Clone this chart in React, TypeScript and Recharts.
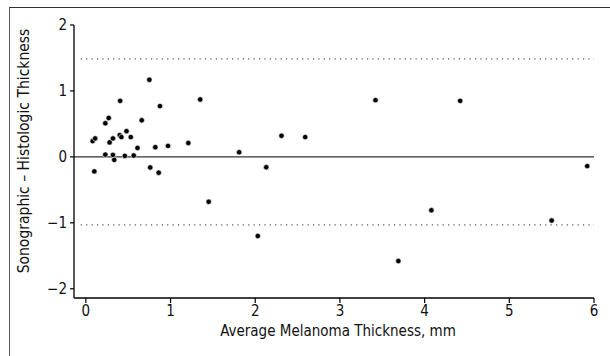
import { ScatterChart, Scatter, XAxis, YAxis, ReferenceLine } from "recharts";

// average thickness (mm) vs sonographic - histologic difference
const avgThickness = [
  0.08, 0.11, 0.1, 0.23, 0.27, 0.23, 0.28, 0.32, 0.32, 0.335,
  0.405, 0.4, 0.42, 0.48, 0.46, 0.53, 0.565, 0.61, 0.66, 0.75,
  0.76, 0.82, 0.875, 0.86, 0.97, 1.21, 1.35, 1.81, 1.45, 2.13,
  2.31, 2.59, 2.03, 3.42, 3.69, 4.42, 4.08, 5.5, 5.92,
];
const difference = [
  0.24, 0.28, -0.22, 0.51, 0.59, 0.035, 0.22, 0.28, 0.03, -0.045,
  0.85, 0.33, 0.3, 0.39, 0.015, 0.3, 0.02, 0.136, 0.555, 1.17,
  -0.16, 0.147, 0.77, -0.24, 0.167, 0.21, 0.87, 0.07, -0.68, -0.157,
  0.32, 0.3, -1.2, 0.86, -1.58, 0.85, -0.81, -0.965, -0.14,
];
const xTicks = [0, 1, 2, 3, 4, 5, 6];
const yTicks = [-2, -1, 0, 1, 2];
const upperLimit = 1.485;
const lowerLimit = -1.03;

const points = avgThickness.map((x, i) => ({ x, y: difference[i] }));

const FONT = "'Liberation Sans Narrow', 'DejaVu Sans Condensed', 'Liberation Sans', sans-serif";
const fmt = (v: number) => (v < 0 ? "\u2212" + Math.abs(v) : String(v));

const Dot = (props: any) => {
  const { cx, cy } = props;
  if (cx == null || cy == null) return null;
  return <circle cx={cx} cy={cy} r={2.7} fill="#000" stroke="#fff" strokeWidth={0.6} />;
};

export default function App() {
  return (
    <div style={{ position: "fixed", left: 0, top: 0, width: 610, height: 356, background: "#fff" }}>
      <div
        style={{
          position: "absolute",
          left: 9,
          top: 7,
          right: 0,
          bottom: 0,
          borderTop: "1.5px solid #333",
          borderLeft: "1.5px solid #555",
        }}
      />
      <div style={{ position: "absolute", left: 0, top: 0 }}>
        <ScatterChart
          width={610}
          height={356}
          margin={{ top: 25, right: 16, bottom: 28, left: 34 }}
          style={{ fontFamily: FONT }}
        >
          <XAxis
            type="number"
            dataKey="x"
            domain={[-0.14, 6]}
            ticks={xTicks}
            allowDataOverflow
            height={30}
            tickSize={5}
            tickMargin={2}
            axisLine={{ stroke: "#000", strokeWidth: 1.3 }}
            tickLine={{ stroke: "#000", strokeWidth: 1.2 }}
            tick={{ fill: "#111", fontSize: 15, fontFamily: FONT }}
            label={(p: any) => (
              <text x={338} y={336} textAnchor="middle" fontSize={15} fill="#111" fontFamily={FONT}>
                Average Melanoma Thickness, mm
              </text>
            )}
          />
          <YAxis
            type="number"
            dataKey="y"
            domain={[-2.14, 2]}
            ticks={yTicks}
            allowDataOverflow
            width={40}
            tickSize={4}
            tickMargin={3}
            tickFormatter={fmt}
            axisLine={{ stroke: "#000", strokeWidth: 1.3 }}
            tickLine={{ stroke: "#000", strokeWidth: 1.2 }}
            tick={{ fill: "#111", fontSize: 15, fontFamily: FONT }}
            label={(p: any) => (
              <text
                x={29}
                y={151}
                transform="rotate(-90 29 151)"
                textAnchor="middle"
                fontSize={15.5}
                fill="#111"
                fontFamily={FONT}
              >
                Sonographic – Histologic Thickness
              </text>
            )}
          />
          <ReferenceLine y={0} stroke="#333" strokeWidth={1.3} />
          <ReferenceLine
            segment={[
              { x: -0.06, y: upperLimit },
              { x: 6, y: upperLimit },
            ]}
            stroke="#555"
            strokeWidth={1.2}
            strokeDasharray="1.2 4.2"
          />
          <ReferenceLine
            segment={[
              { x: -0.06, y: lowerLimit },
              { x: 6, y: lowerLimit },
            ]}
            stroke="#555"
            strokeWidth={1.2}
            strokeDasharray="1.2 4.2"
          />
          <Scatter data={points} shape={<Dot />} isAnimationActive={false} />
        </ScatterChart>
      </div>
    </div>
  );
}
